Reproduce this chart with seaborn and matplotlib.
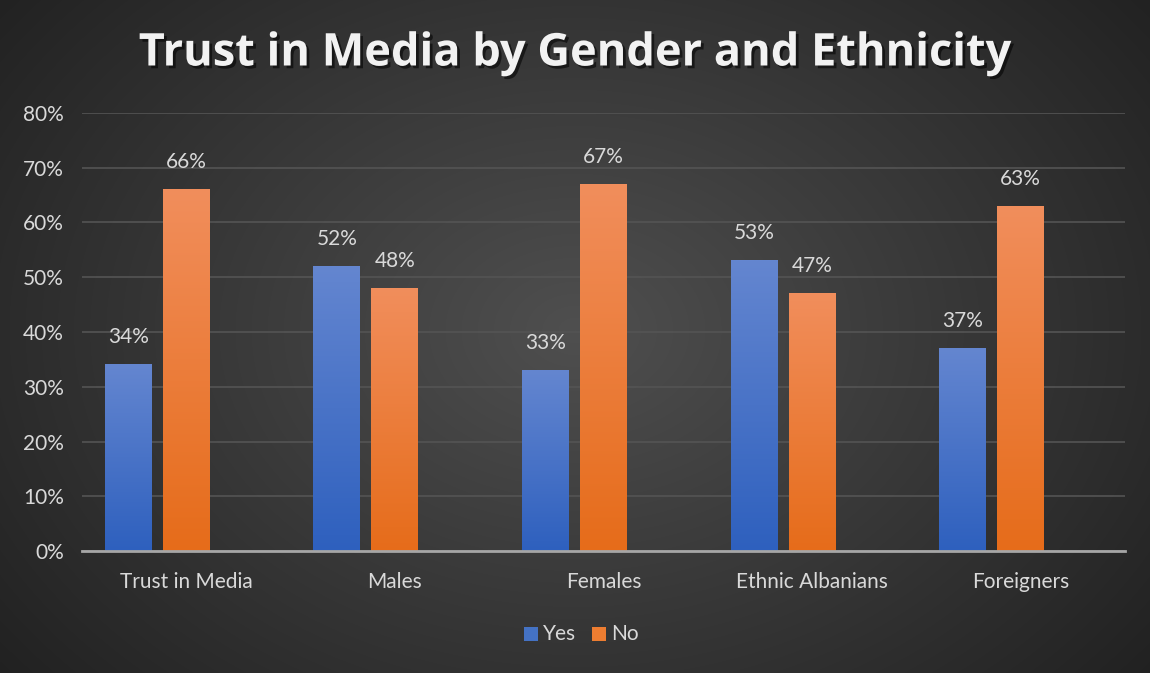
import numpy as np
import pandas as pd
import matplotlib
matplotlib.use("Agg")
import matplotlib.pyplot as plt
import matplotlib.patheffects as pe
from matplotlib.patches import Rectangle
import seaborn as sns

categories = ["Trust in Media", "Males", "Females", "Ethnic Albanians", "Foreigners"]
yes_values = [34, 52, 33, 53, 37]
no_values = [66, 48, 67, 47, 63]
series = ["Yes", "No"]
y_ticks = [0, 10, 20, 30, 40, 50, 60, 70, 80]
title = "Trust in Media by Gender and Ethnicity"

df = pd.DataFrame({
    "category": categories * 2,
    "series": ["Yes"] * len(categories) + ["No"] * len(categories),
    "value": yes_values + no_values,
})

sns.set_theme(style="dark")
plt.rcParams["font.family"] = ["Lato", "DejaVu Sans"]

W, H = 1150, 673
fig = plt.figure(figsize=(W / 100, H / 100), dpi=100)

# radial grey background
bg = fig.add_axes([0, 0, 1, 1])
yy, xx = np.mgrid[0:H, 0:W]
r = np.sqrt(((xx - 575) / 700.0) ** 2 + ((yy - 330) / 520.0) ** 2)
shade = np.clip(0.31 - 0.17 * r, 0.13, 0.31)
bg.imshow(np.dstack([shade] * 3), extent=[0, 1, 0, 1], aspect="auto", zorder=0)
bg.set_axis_off()

ax = fig.add_axes([82 / W, 1 - 551 / H, (1125 - 82) / W, (551 - 113) / H])
ax.patch.set_alpha(0)

sns.barplot(data=df, x="category", y="value", hue="series",
            hue_order=["Yes", "No", "_spacer"], order=categories,
            palette={"Yes": "#4472c4", "No": "#ed7d31", "_spacer": "#000000"},
            width=0.834, gap=0.19, legend=False, ax=ax, zorder=3)

tops = {"Yes": ((100, 134, 208), (46, 96, 190)),
        "No": ((241, 142, 92), (230, 108, 26))}
for bar_container, name in zip(ax.containers, series):
    top_c, bot_c = tops[name]
    grad = np.linspace(0, 1, 256)
    img = np.zeros((256, 1, 3))
    for k in range(3):
        img[:, 0, k] = (top_c[k] + (bot_c[k] - top_c[k]) * grad) / 255.0
    for patch, val in zip(bar_container.patches, bar_container.datavalues):
        x0, w = patch.get_x(), patch.get_width()
        h = patch.get_height()
        patch.set_alpha(0)
        ax.imshow(img, extent=[x0, x0 + w, 0, h], aspect="auto", zorder=3)
        ax.text(x0 + w / 2, h + 3.2, f"{val:.0f}%", ha="center", va="bottom",
                color="#d9d9d9", fontsize=15, zorder=5)

ax.set_xlim(-0.5, len(categories) - 0.5)
ax.set_ylim(0, 80)
ax.set_yticks(y_ticks)
ax.set_yticklabels([f"{t}%" for t in y_ticks])
ax.yaxis.grid(True, color="#545454", linewidth=1.2, zorder=0)
ax.xaxis.grid(False)
ax.tick_params(axis="both", colors="#d9d9d9", labelsize=15, length=0)
ax.tick_params(axis="y", pad=13)
ax.tick_params(axis="x", pad=15)
for lbl in ax.get_xticklabels() + ax.get_yticklabels():
    lbl.set_color("#d9d9d9")
ax.set_xlabel("")
ax.set_ylabel("")
for s in ["top", "right", "left"]:
    ax.spines[s].set_visible(False)
ax.spines["bottom"].set_color("#a6a6a6")
ax.spines["bottom"].set_linewidth(2)
ax.spines["bottom"].set_zorder(6)

fig.text(0.5, 1 - 54 / H, title, ha="center", va="center", color="#f2f2f2",
         fontsize=32.5, fontweight="bold", family=["Open Sans", "DejaVu Sans"],
         path_effects=[pe.SimplePatchShadow(offset=(2, -2), shadow_rgbFace="black", alpha=0.55),
                       pe.Normal()])

# legend
legend_y = 1 - 634 / H
items = [("Yes", "#4472c4", 524), ("No", "#ed7d31", 592)]
for name, col, px in items:
    fig.patches.append(Rectangle((px / W, legend_y - 7 / H), 14 / W, 14 / H,
                                 transform=fig.transFigure, facecolor=col,
                                 edgecolor="none"))
    fig.text((px + 19) / W, legend_y, name, ha="left", va="center",
             color="#d9d9d9", fontsize=15)

fig.savefig("out.png", dpi=100)
